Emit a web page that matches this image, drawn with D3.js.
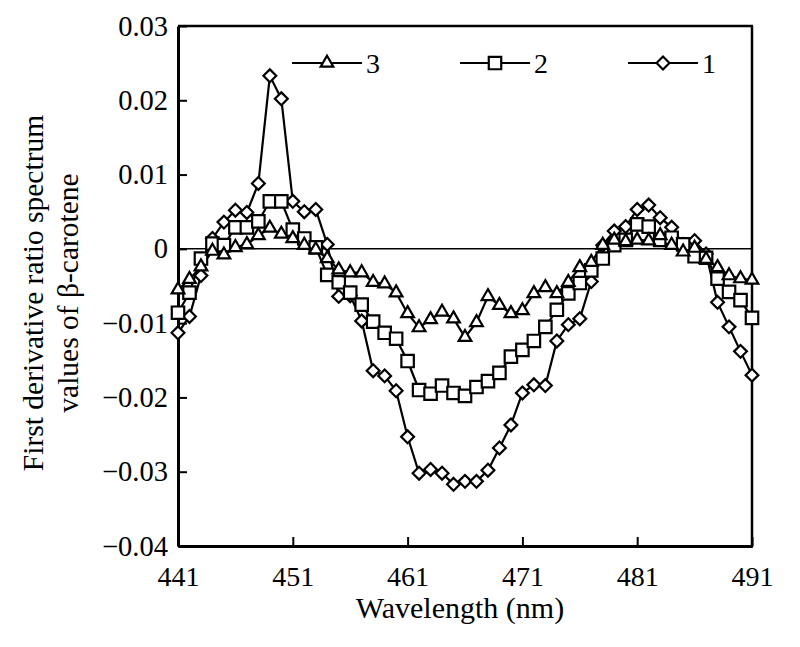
<!DOCTYPE html>
<html><head><meta charset="utf-8">
<script src="https://cdn.jsdelivr.net/npm/d3@7"></script>
<style>body{margin:0;background:#fff}svg{display:block}text{font-family:"Liberation Serif","Times New Roman",serif;fill:#000}</style>
</head><body><svg id="c" width="800" height="647"></svg>
<script>
const wavelengths = d3.range(441, 492);
const series1 = [-0.0113,-0.0091,-0.0036,0.0014,0.0036,0.0052,0.0049,0.0088,0.0233,0.0202,
 0.0064,0.0050,0.0053,0.0006,-0.0064,-0.0063,-0.0097,-0.0164,-0.0171,-0.0191,
 -0.0253,-0.0302,-0.0297,-0.0302,-0.0317,-0.0313,-0.0313,-0.0298,-0.0268,-0.0237,
 -0.0194,-0.0183,-0.0184,-0.0124,-0.0102,-0.0094,-0.0044,0.0005,0.0024,0.0030,
 0.0053,0.0059,0.0042,0.0029,0.0006,0.0011,-0.0007,-0.0072,-0.0105,-0.0138,-0.0170];
const series2 = [-0.0086,-0.0059,-0.0013,0.0007,0.0005,0.0029,0.0029,0.0037,0.0064,0.0064,
 0.0026,0.0014,0.0002,-0.0035,-0.0045,-0.0059,-0.0075,-0.0098,-0.0113,-0.0121,
 -0.0151,-0.0190,-0.0195,-0.0184,-0.0194,-0.0198,-0.0186,-0.0178,-0.0167,-0.0145,
 -0.0136,-0.0124,-0.0105,-0.0082,-0.0060,-0.0046,-0.0029,-0.0013,0.0005,0.0012,
 0.0033,0.0030,0.0012,0.0015,0.0006,-0.0010,-0.0012,-0.0040,-0.0058,-0.0069,-0.0093];
const series3 = [-0.0055,-0.0041,-0.0024,-0.0003,-0.0008,0.0002,0.0006,0.0018,0.0028,0.0020,
 0.0014,0.0005,-0.0001,-0.0013,-0.0028,-0.0032,-0.0032,-0.0045,-0.0047,-0.0059,
 -0.0087,-0.0106,-0.0095,-0.0085,-0.0094,-0.0119,-0.0099,-0.0064,-0.0076,-0.0087,
 -0.0083,-0.0060,-0.0052,-0.0060,-0.0045,-0.0025,-0.0018,0.0005,0.0012,0.0010,
 0.0012,0.0011,0.0018,0.0005,-0.0004,0.0001,-0.0014,-0.0025,-0.0036,-0.0040,-0.0042];
const xTicks = [441,451,461,471,481,491];
const yTicks = [0.03,0.02,0.01,0,-0.01,-0.02,-0.03,-0.04];
const yTickLabels = ["0.03","0.02","0.01","0","\u22120.01","\u22120.02","\u22120.03","\u22120.04"];
const legendNames = ["3","2","1"];

const svg = d3.select("#c");
const L=178,R=752,T=26,B=546;
const x = d3.scaleLinear().domain([441,491]).range([L,R]);
const y = d3.scaleLinear().domain([-0.04,0.03]).range([B,T]);

// zero line
svg.append("line").attr("x1",L).attr("x2",R).attr("y1",y(0)).attr("y2",y(0)).attr("stroke","#000").attr("stroke-width",1.5);

// axes
const xAxis = d3.axisBottom(x).tickValues(xTicks).tickSizeInner(-9).tickSizeOuter(0).tickPadding(20).tickFormat(d3.format("d"));
const gx = svg.append("g").attr("transform",`translate(0,${B})`).call(xAxis);
gx.select(".domain").attr("stroke-width",3);
gx.selectAll(".tick line").attr("stroke-width",2);
gx.selectAll("text").attr("font-size",28).attr("dy","0.71em");

const yAxis = d3.axisLeft(y).tickValues(yTicks).tickSizeInner(-9).tickSizeOuter(0).tickPadding(10)
  .tickFormat((d,i)=>yTickLabels[i]);
const gy = svg.append("g").attr("transform",`translate(${L},0)`).call(yAxis);
gy.select(".domain").attr("stroke-width",3);
gy.selectAll(".tick line").attr("stroke-width",2);
gy.selectAll("text").attr("font-size",28.5);

// top & right frame
svg.append("line").attr("x1",L).attr("x2",R+1).attr("y1",T).attr("y2",T).attr("stroke","#000").attr("stroke-width",2.5);
svg.append("line").attr("x1",R).attr("x2",R).attr("y1",T).attr("y2",B+1.5).attr("stroke","#000").attr("stroke-width",2.5);

// markers
const sym = {
  diamond: d3.symbol().type(d3.symbolDiamond2).size(105),
  square: d3.symbol().type(d3.symbolSquare).size(155),
  triangle: d3.symbol().type(d3.symbolTriangle2).size(115)
};
const seriesList = [
  {vals: series1, s: "diamond"},
  {vals: series2, s: "square"},
  {vals: series3, s: "triangle"}
];
const line = d3.line().x((d,i)=>x(wavelengths[i])).y(d=>y(d));
seriesList.forEach(sr=>{
  svg.append("path").attr("d",line(sr.vals)).attr("fill","none").attr("stroke","#000").attr("stroke-width",2.2);
});
seriesList.forEach(sr=>{
  svg.append("g").selectAll("path").data(sr.vals).join("path")
    .attr("d",sym[sr.s]())
    .attr("transform",(d,i)=>`translate(${x(wavelengths[i])},${y(d)})`)
    .attr("fill","#fff").attr("stroke","#000").attr("stroke-width",2.2);
});

// legend
const legendItems = [
  {name: legendNames[0], s:"triangle", x0:292},
  {name: legendNames[1], s:"square", x0:460},
  {name: legendNames[2], s:"diamond", x0:628}
];
const ly = 63;
legendItems.forEach(it=>{
  const g = svg.append("g");
  g.append("line").attr("x1",it.x0).attr("x2",it.x0+70).attr("y1",ly).attr("y2",ly).attr("stroke","#000").attr("stroke-width",2.2);
  g.append("path").attr("d",sym[it.s]()).attr("transform",`translate(${it.x0+35},${ly})`).attr("fill","#fff").attr("stroke","#000").attr("stroke-width",2.2);
  g.append("text").attr("x",it.x0+74).attr("y",ly).attr("dy","0.35em").attr("font-size",28).text(it.name);
});

// axis titles
svg.append("text").attr("x",460).attr("y",618).attr("text-anchor","middle").attr("font-size",30).text("Wavelength (nm)");
const yt = svg.append("text").attr("transform","translate(0,293) rotate(-90)").attr("text-anchor","middle").attr("font-size",29.5);
yt.append("tspan").attr("x",0).attr("y",43).text("First derivative ratio spectrum");
yt.append("tspan").attr("x",0).attr("y",78).text("values of \u03b2-carotene");
</script></body></html>
